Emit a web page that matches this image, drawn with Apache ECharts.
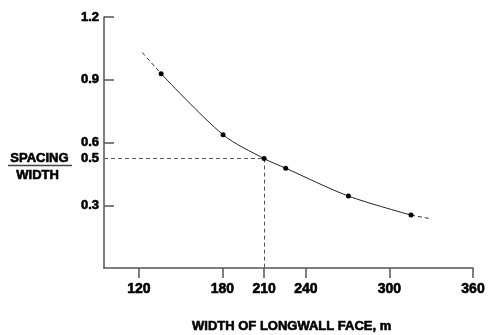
<!DOCTYPE html>
<html>
<head>
<meta charset="utf-8">
<script src="https://cdn.jsdelivr.net/npm/echarts@6/dist/echarts.min.js"></script>
<style>
  html, body { margin: 0; padding: 0; background: #fff; }
  #chart { width: 488px; height: 335px; }
</style>
</head>
<body>
<div id="chart"></div>
<script>
// measured points on the curve (width m, spacing/width)
const widths = [136, 180.5, 210, 225.5, 270.5, 315.5]
const ratios = [0.929, 0.637, 0.523, 0.477, 0.344, 0.253]
// dashed extrapolation at both ends
const leftExt = [[122.5, 1.03], [136, 0.929]]
const rightExt = [[315.5, 0.253], [330, 0.235]]
// tick labels
const xTicks = [120, 180, 210, 240, 300, 360]
const yTicks = [0.3, 0.6, 0.9, 1.2]
// read-off guide at 210 m
const guideX = 210
const guideY = 0.523
const guideLabel = '0.5'

const FONT = 'Liberation Sans, Arial, sans-serif'
const xMin = 95

// heavy black lettering like the scanned figure
const heavy = {
    color: '#000', fontFamily: FONT, fontWeight: 'bold',
    textBorderColor: '#000', textBorderWidth: 0.6,
}

const chart = echarts.init(document.getElementById('chart'))

const mainData = widths.map((w, i) => [w, ratios[i]])

const extStyle = { color: '#333', width: 1, type: [4, 3] }

chart.setOption({
    animation: false,
    grid: { left: 104, right: 15, top: 17, bottom: 67 },
    xAxis: {
        type: 'value',
        min: xMin,
        max: 360,
        splitLine: { show: false },
        axisLine: { lineStyle: { color: '#555', width: 1.5 } },
        axisTick: { customValues: xTicks, length: 10, lineStyle: { color: '#555', width: 1.5 } },
        axisLabel: Object.assign({ customValues: xTicks, margin: 14, fontSize: 14 }, heavy),
    },
    yAxis: {
        type: 'value',
        min: 0,
        max: 1.2,
        splitLine: { show: false },
        axisLine: { lineStyle: { color: '#555', width: 1.5 } },
        axisTick: { customValues: yTicks, inside: true, length: 10, lineStyle: { color: '#555', width: 1.5 } },
        axisLabel: Object.assign({
            customValues: yTicks, margin: 5, fontSize: 13,
            formatter: (v) => v.toFixed(1),
        }, heavy),
    },
    title: {
        text: 'WIDTH OF LONGWALL FACE, m',
        left: 192,
        top: 320,
        padding: 0,
        textStyle: Object.assign({ fontSize: 13 }, heavy),
    },
    graphic: [
        {
            type: 'text', left: 10, top: 152,
            style: { text: 'SPACING', fill: '#000', stroke: '#000', lineWidth: 0.6, font: 'bold 13px ' + FONT },
        },
        {
            type: 'line',
            shape: { x1: 8, y1: 165.5, x2: 72, y2: 165.5 },
            style: { stroke: '#444', lineWidth: 1.5 },
        },
        {
            type: 'text', left: 16, top: 169,
            style: { text: 'WIDTH', fill: '#000', stroke: '#000', lineWidth: 0.6, font: 'bold 13px ' + FONT },
        },
    ],
    series: [
        {
            type: 'line',
            data: mainData,
            smooth: 0.3,
            symbol: 'circle',
            symbolSize: 5,
            itemStyle: { color: '#000' },
            lineStyle: { color: '#222', width: 1 },
            z: 5,
            markLine: {
                silent: true,
                symbol: 'none',
                lineStyle: { color: '#555', width: 1, type: [4, 3] },
                data: [
                    [
                        {
                            coord: [xMin, guideY],
                            label: Object.assign({
                                show: true, position: 'start', distance: 5, formatter: guideLabel, fontSize: 13,
                            }, heavy),
                        },
                        { coord: [guideX, guideY] },
                    ],
                    [
                        { coord: [guideX, guideY], label: { show: false } },
                        { coord: [guideX, 0] },
                    ],
                ],
            },
        },
        {
            type: 'line', data: leftExt, symbol: 'none',
            lineStyle: extStyle,
        },
        {
            type: 'line', data: rightExt, symbol: 'none',
            lineStyle: extStyle,
        },
    ],
})
</script>
</body>
</html>
